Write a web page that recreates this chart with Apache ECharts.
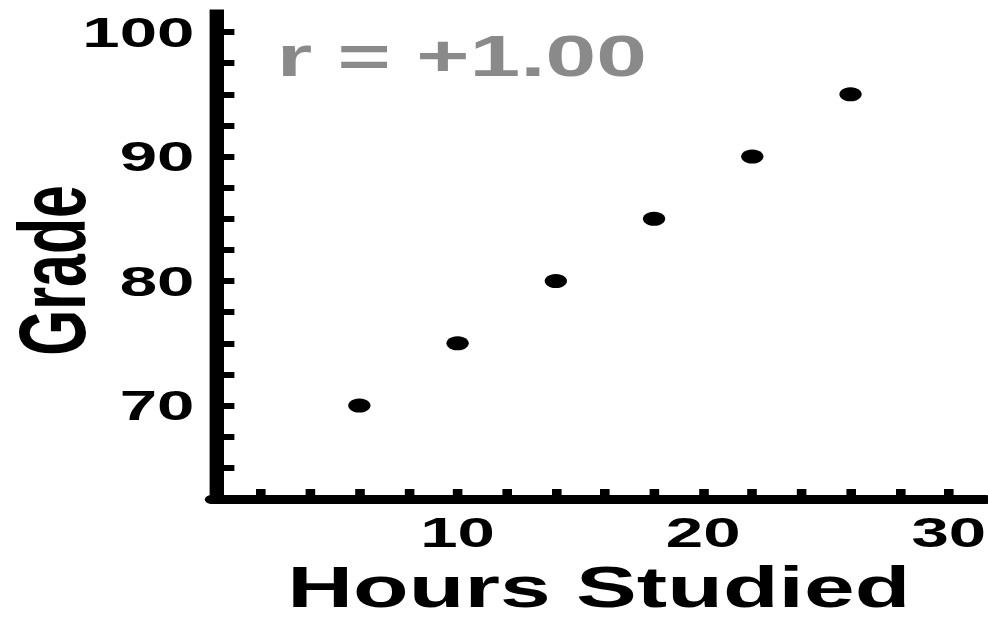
<!DOCTYPE html>
<html>
<head>
<meta charset="utf-8">
<script src="https://cdn.jsdelivr.net/npm/echarts@6/dist/echarts.min.js"></script>
<style>
  html, body { margin: 0; padding: 0; background: #ffffff; overflow: hidden; }
  #wrap { width: 988px; height: 619px; overflow: hidden; position: relative; }
  #chart { width: 617.5px; height: 619px; transform: scaleX(1.6); transform-origin: 0 0; }
</style>
</head>
<body>
<div id="wrap"><div id="chart"></div></div>
<script>
// Data
const hoursStudied = [6, 10, 14, 18, 22, 26];
const grades = [70, 75, 80, 85, 90, 95];
const xTickValues = [2, 4, 6, 8, 10, 12, 14, 16, 18, 20, 22, 24, 26, 28, 30];
const xLabelValues = [10, 20, 30];
const yTickValues = [62.5, 65, 67.5, 70, 72.5, 75, 77.5, 80, 82.5, 85, 87.5, 90, 92.5, 95, 97.5, 100];
const yLabelValues = [70, 80, 90, 100];
const correlationText = 'r = +1.00';
const xTitle = 'Hours Studied';
const yTitle = 'Grade';

const points = hoursStudied.map((h, i) => [h, grades[i]]);
const FONT = '"Liberation Sans", Arial, Helvetica, sans-serif';

const chart = echarts.init(document.getElementById('chart'), null, { renderer: 'svg' });
chart.setOption({
  backgroundColor: '#ffffff',
  animation: false,
  title: {
    text: correlationText,
    left: 168,
    top: 23,
    textStyle: { color: '#8a8a8a', fontFamily: FONT, fontWeight: 'bold', fontSize: 57 }
  },
  grid: { left: 132.5, right: 2, top: 14, bottom: 120, containLabel: false, outerBoundsMode: 'none' },
  xAxis: {
    type: 'value',
    min: 0,
    max: 31.5,
    name: xTitle,
    nameLocation: 'middle',
    nameGap: 65,
    nameMoveOverlap: false,
    nameTextStyle: { color: '#000', fontFamily: FONT, fontWeight: 'bold', fontSize: 57, lineHeight: 46 },
    splitLine: { show: false },
    axisLine: { show: true, onZero: false, lineStyle: { color: '#000', width: 9 } },
    axisTick: { show: true, inside: true, length: 10, customValues: xTickValues,
      lineStyle: { color: '#000', width: 6 } },
    axisLabel: { show: true, customValues: xLabelValues, margin: 12,
      color: '#000', fontFamily: FONT, fontWeight: 'bold', fontSize: 42 }
  },
  yAxis: {
    type: 'value',
    min: 62.5,
    max: 101.45,
    offset: -3,
    name: yTitle,
    nameLocation: 'middle',
    nameGap: 73,
    nameMoveOverlap: false,
    nameRotate: 90,
    nameTextStyle: { color: '#000', fontFamily: FONT, fontWeight: 'bold', fontSize: 59, padding: [0, 28, 0, 0] },
    splitLine: { show: false },
    axisLine: { show: true, onZero: false, lineStyle: { color: '#000', width: 9, cap: 'square' } },
    axisTick: { show: true, inside: true, length: 11, customValues: yTickValues,
      lineStyle: { color: '#000', width: 6 } },
    axisLabel: { show: true, customValues: yLabelValues, margin: 14,
      color: '#000', fontFamily: FONT, fontWeight: 'bold', fontSize: 42 }
  },
  series: [{
    type: 'scatter',
    data: points,
    symbol: 'circle',
    symbolSize: 14,
    itemStyle: { color: '#000', opacity: 1 }
  }]
});
</script>
</body>
</html>
